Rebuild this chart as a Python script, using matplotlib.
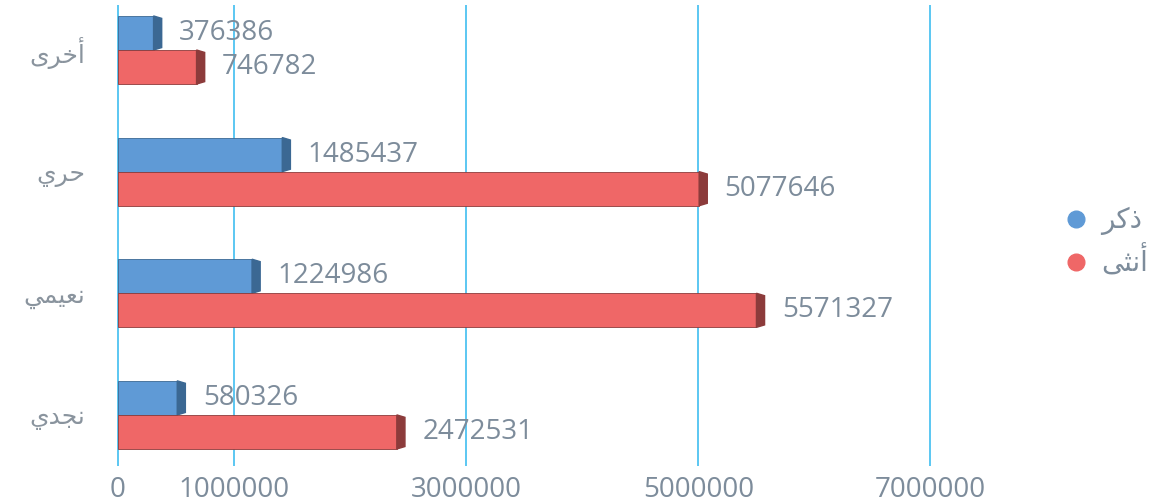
import matplotlib
matplotlib.use("Agg")
import matplotlib.pyplot as plt
from matplotlib.patches import Polygon
from matplotlib.lines import Line2D
import numpy as np

# Arabic labels written in visual order with presentation forms (matplotlib does no shaping)
categories = ["\uFEF1\uFEAA\uFEA0\uFEE7",        # نجدي
              "\uFEF2\uFEE4\uFEF4\uFECC\uFEE7",  # نعيمي
              "\uFEF1\uFEAE\uFEA3",              # حري
              "\uFEEF\uFEAE\uFEA7\uFE83"]        # أخرى
male = [580326, 1224986, 1485437, 376386]
female = [2472531, 5571327, 5077646, 746782]
legend_labels = ["\uFEAE\uFEDB\uFEAB",           # ذكر
                 "\uFEF0\uFE9C\uFEE7\uFE83"]     # أنثى
xticks = [0, 1000000, 3000000, 5000000, 7000000]

fonts = ["Open Sans", "DejaVu Sans"]
txt_color = "#7d8c9b"
blue, blue_side = "#5f9ad6", "#3b6893"
red, red_side = "#ef6767", "#8c3b3b"

fig = plt.figure(figsize=(11.57, 5.04), dpi=100)
ax = fig.add_axes([102 / 1157, 1 - 466 / 504, (1000 - 102) / 1157, (466 - 5) / 504])

y = np.arange(len(categories))
h = 0.28
side = 0.07e6  # width of the shaded end face

for vals, off, face, dark in [(male, h / 2, blue, blue_side), (female, -h / 2, red, red_side)]:
    ax.barh(y + off, [v - side for v in vals], height=h, color=face,
            edgecolor=dark, linewidth=0.6, zorder=3)
    for yi, v in zip(y + off, vals):
        ax.add_patch(Polygon([(v - side, yi - h / 2), (v, yi - h / 2 + 0.02),
                              (v, yi + h / 2 - 0.02), (v - side, yi + h / 2)],
                             closed=True, color=dark, zorder=3))
        ax.text(v + 0.15e6, yi, str(v), va="center", ha="left", fontsize=20,
                color=txt_color, family=fonts, zorder=4)

ax.set_xlim(-0.138e6, 7.6e6)
ax.set_ylim(-0.42, 3.37)
ax.set_xticks(xticks)
ax.set_xticklabels([str(t) for t in xticks], fontsize=20, color=txt_color, family=fonts)
ax.set_yticks(y)
ax.set_yticklabels(categories, fontsize=18, color="#8a949e", family=fonts)
ax.tick_params(length=0)
ax.tick_params(axis="x", pad=7)
ax.tick_params(axis="y", pad=12)
ax.grid(axis="x", color="#3fbdf0", linewidth=1.2, zorder=0)
for s in ax.spines.values():
    s.set_visible(False)

handles = [Line2D([], [], marker="o", linestyle="", markersize=12, color=blue),
           Line2D([], [], marker="o", linestyle="", markersize=12, color=red)]
leg = fig.legend(handles, legend_labels, loc="center left",
                 bbox_to_anchor=(1040 / 1157, 1 - 243 / 504), frameon=False,
                 handlelength=0.8, handletextpad=0.5, labelspacing=0.4,
                 prop={"family": fonts, "size": 20})
for t in leg.get_texts():
    t.set_color(txt_color)

fig.savefig("out.png", dpi=100)
